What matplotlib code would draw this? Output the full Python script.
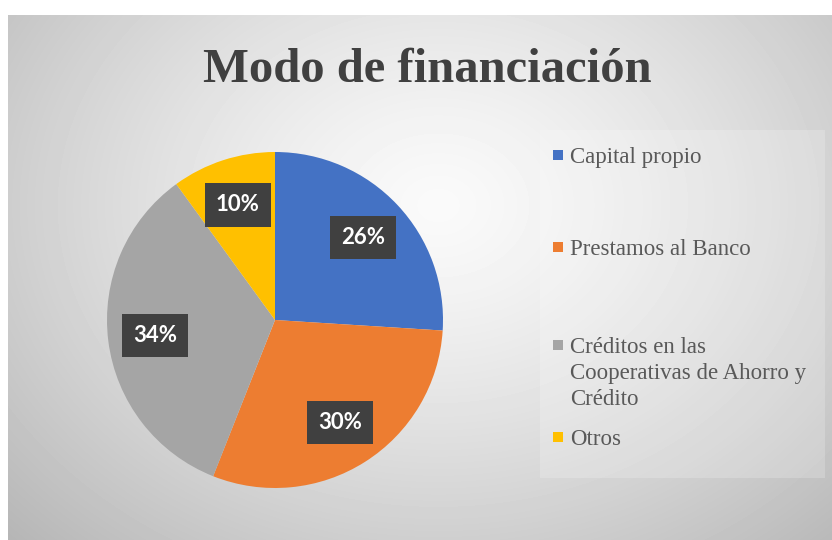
import numpy as np
import matplotlib.pyplot as plt

# data
categories = [
    "Capital propio",
    "Prestamos al Banco",
    "Créditos en las\nCooperativas de Ahorro y\nCrédito",
    "Otros",
]
shares = [26, 30, 34, 10]
colors = ["#4472C4", "#ED7D31", "#A5A5A5", "#FFC000"]
title = "Modo de financiación"

W, H = 832, 540
fig = plt.figure(figsize=(W / 100, H / 100), dpi=100, facecolor="white")


def px(x0, y0, x1, y1):
    # pixel box (top-left origin) -> figure fraction rect
    return [x0 / W, 1 - y1 / H, (x1 - x0) / W, (y1 - y0) / H]


# chart area gradient background
bg = fig.add_axes(px(8, 15, W, H))
bg.set_axis_off()
yy, xx = np.mgrid[0:525, 0:824]
d = np.sqrt(((xx - 430) / 480.0) ** 2 + ((yy - 190) / 380.0) ** 2)
shade = 0.98 - 0.20 * np.clip(d, 0, 1.3) ** 1.3
bg.imshow(shade, cmap="gray", vmin=0, vmax=1, aspect="auto",
          interpolation="bilinear")

# title
fig.text(427 / W, 1 - 82 / H, title, ha="center", va="baseline",
         fontsize=35, fontweight="bold", family="Liberation Serif",
         color="#404040")

# pie
ax = fig.add_axes(px(107, 152, 443, 488))
wedges, texts, autotexts = ax.pie(
    shares, colors=colors, startangle=90, counterclock=False,
    autopct="%d%%", pctdistance=0.72, radius=1.0,
    wedgeprops=dict(linewidth=0),
    textprops=dict(color="white", fontsize=16, fontweight="bold",
                   family="Lato"),
)
for t in autotexts:
    t.set_bbox(dict(boxstyle="square,pad=0.5", facecolor="#404040",
                    edgecolor="none"))
ax.set_xlim(-1, 1)
ax.set_ylim(-1, 1)
ax.set_aspect("equal")

# legend box
lg = fig.add_axes(px(540, 130, 825, 478))
lg.set_xlim(0, 285)
lg.set_ylim(348, 0)
lg.set_facecolor((1, 1, 1, 0.2))
for s in lg.spines.values():
    s.set_visible(False)
lg.set_xticks([])
lg.set_yticks([])

entry_y = [25, 117, 215, 307]
line_h = 26
for label, col, y in zip(categories, colors, entry_y):
    lg.add_patch(plt.Rectangle((13, y - 5), 10, 10, facecolor=col,
                               edgecolor="none"))
    for k, line in enumerate(label.split("\n")):
        lg.text(30, y + k * line_h, line, va="center_baseline", ha="left",
                fontsize=16.5, family="Liberation Serif", color="#595959")

fig.savefig("out.png", dpi=100)
